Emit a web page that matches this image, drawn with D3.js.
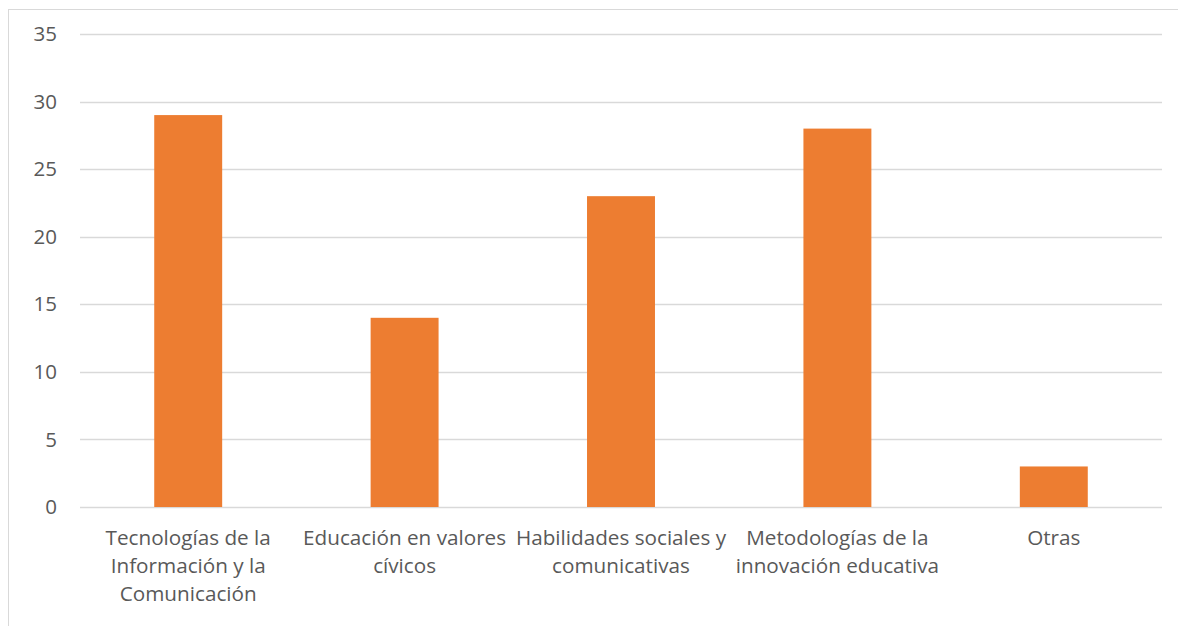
<!DOCTYPE html>
<html>
<head>
<meta charset="utf-8">
<script src="https://cdn.jsdelivr.net/npm/d3@7"></script>
<style>
  body { margin: 0; background: #fff; }
  text { font-family: "Open Sans", sans-serif; fill: #595959; }
</style>
</head>
<body>
<div id="chart"></div>
<script>
// categories (line breaks as in the original wrap)
const categories = [
  ["Tecnologías de la", "Información y la", "Comunicación"],
  ["Educación en valores", "cívicos"],
  ["Habilidades sociales y", "comunicativas"],
  ["Metodologías de la", "innovación educativa"],
  ["Otras"]
];
const values = [29, 14, 23, 28, 3];
const yTicks = [0, 5, 10, 15, 20, 25, 30, 35];

const width = 1178, height = 626;
const margin = { top: 34, right: 16, bottom: 119, left: 80 };

const svg = d3.select("#chart").append("svg")
  .attr("width", width)
  .attr("height", height);

// chart area border (cropped on right/bottom)
svg.append("rect")
  .attr("x", 8.5).attr("y", 9.5)
  .attr("width", width + 20).attr("height", height + 20)
  .attr("fill", "none")
  .attr("stroke", "#d9d9d9");

const x = d3.scaleBand()
  .domain(d3.range(categories.length))
  .range([margin.left, width - margin.right])
  .paddingInner(0.686)
  .paddingOuter(0.343);

const y = d3.scaleLinear()
  .domain([0, 35])
  .range([height - margin.bottom, margin.top]);

// gridlines
svg.append("g")
  .selectAll("line")
  .data(yTicks)
  .join("line")
  .attr("x1", margin.left)
  .attr("x2", width - margin.right)
  .attr("y1", d => Math.round(y(d)) + 0.5)
  .attr("y2", d => Math.round(y(d)) + 0.5)
  .attr("stroke", "#d9d9d9")
  .attr("stroke-width", 1.3);

// y labels
svg.append("g")
  .selectAll("text")
  .data(yTicks)
  .join("text")
  .attr("x", 57)
  .attr("y", d => y(d))
  .attr("dy", "0.35em")
  .attr("text-anchor", "end")
  .attr("font-size", 20.5)
  .text(d => d);

// bars
svg.append("g")
  .selectAll("rect")
  .data(values)
  .join("rect")
  .attr("x", (d, i) => x(i))
  .attr("width", x.bandwidth())
  .attr("y", d => y(d))
  .attr("height", d => y(0) - y(d))
  .attr("fill", "#ed7d31");

// category labels
const labels = svg.append("g")
  .selectAll("text")
  .data(categories)
  .join("text")
  .attr("text-anchor", "middle")
  .attr("font-size", 20.7)
  .attr("transform", (d, i) => `translate(${x(i) + x.bandwidth() / 2},545)`);

labels.selectAll("tspan")
  .data(d => d)
  .join("tspan")
  .attr("x", 0)
  .attr("y", (d, i) => i * 28)
  .text(d => d);
</script>
</body>
</html>
